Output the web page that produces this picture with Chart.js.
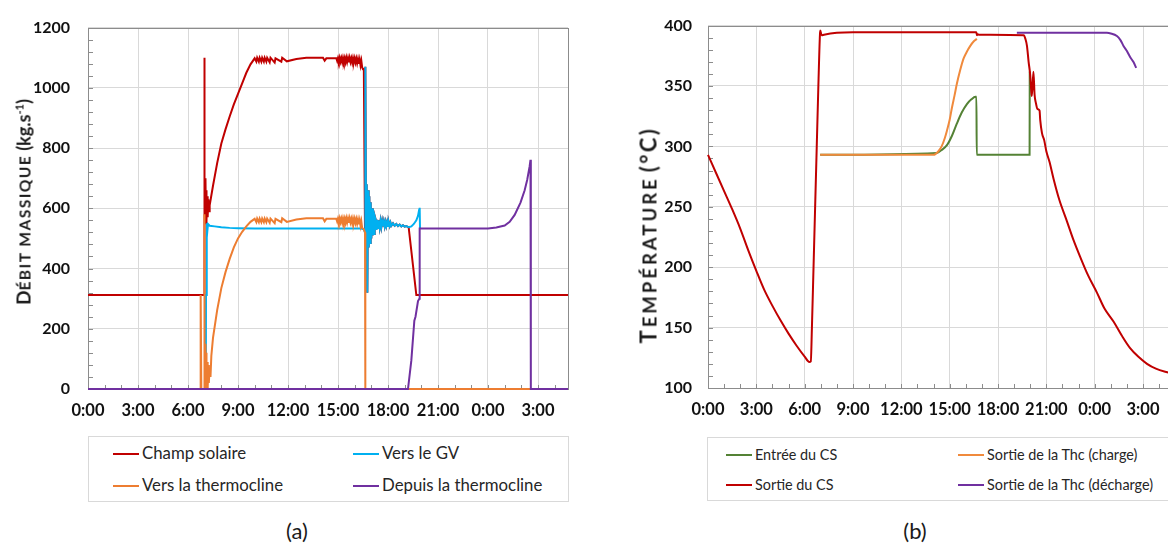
<!DOCTYPE html>
<html>
<head>
<meta charset="utf-8">
<script src="https://cdn.jsdelivr.net/npm/chart.js@4.4.1/dist/chart.umd.min.js"></script>
<style>
  html, body { margin: 0; padding: 0; background: #fff; }
  body { width: 1168px; height: 545px; overflow: hidden; position: relative; font-family: Lato, "Open Sans", sans-serif; }
  .wrap { position: absolute; top: 0; width: 600px; height: 430px; }
  .ytitle { position: absolute; font-weight: bold; color: #1a1a1a; white-space: nowrap;
            transform: translate(-50%, -50%) rotate(-90deg); }
  .ytitle sup { font-size: 11px; }
  .legend { position: absolute; border: 1px solid #d9d9d9; background: #fff; }
  .item { position: absolute; color: #262626; white-space: nowrap; line-height: 18px; }
  .item i { display: inline-block; width: 26px; height: 2px; vertical-align: middle; margin-right: 3px; position: relative; top: -1px; }
  .caption { position: absolute; font-size: 22px; color: #1a1a1a; transform: translate(-50%, -50%); }
</style>
</head>
<body>
<div class="wrap" style="left:0"><canvas id="chartA" width="600" height="430"></canvas></div>
<div class="wrap" style="left:600px"><canvas id="chartB" width="600" height="430"></canvas></div>
<div class="ytitle" style="left:23px; top:202px"><span style="font-size:19px">D</span><span style="font-size:15.5px; letter-spacing:1.5px">ÉBIT MASSIQUE</span> <span style="font-size:18px">(kg.s<sup>-1</sup>)</span></div>
<div class="ytitle" style="left:648px; top:235px"><span style="font-size:22px; letter-spacing:3px">T</span><span style="font-size:18.5px; letter-spacing:3px">EMPÉRATURE</span> <span style="font-size:22px; letter-spacing:2.5px">(°C)</span></div>
<div class="legend" id="legendA" style="left:88px; top:436px; width:479px; height:64px"></div>
<div class="legend" id="legendB" style="left:707px; top:437px; width:520px; height:62px"></div>
<div class="caption" style="left:297px; top:530px">(a)</div>
<div class="caption" style="left:915px; top:530px">(b)</div>
<script>
// ---- (a) débit massique, temps en heures depuis 0:00 ----
const namesA = ['Champ solaire', 'Vers le GV', 'Vers la thermocline', 'Depuis la thermocline'];
const colorsA = ['#C00000', '#00B0F0', '#ED7D31', '#7030A0'];

// Vers le GV
const gvT = [0, 7.07, 7.08, 7.12, 7.13, 7.17, 7.2, 7.3, 7.6, 8, 8.5, 9, 10, 16.4, 16.55, 16.62,
  16.64, 16.68, 16.72, 16.76, 16.8, 16.84, 16.88, 16.92, 16.96, 17.0, 17.04, 17.08, 17.12, 17.16, 17.2,
  17.25, 17.3, 17.35, 17.4, 17.45, 17.5, 17.55, 17.6, 17.65, 17.7, 17.75, 17.8, 17.85, 17.9, 17.95, 18.0,
  18.05, 18.1, 18.15, 18.2, 18.3, 18.4, 18.5, 18.6, 18.7, 18.8, 18.9, 19.0, 19.1, 19.24,
  19.4, 19.55, 19.7, 19.8, 19.87, 19.9, 19.92];
const gvV = [0, 0, 312, 312, 550, 530, 548, 542, 540, 537, 535, 534, 533, 533, 530, 520,
  1070, 600, 680, 320, 660, 470, 640, 485, 620, 500, 600, 510, 585, 515, 575,
  565, 528, 562, 535, 560, 537, 558, 538, 557, 540, 556, 540, 555, 541, 554, 541,
  553, 542, 552, 542, 550, 542, 548, 541, 546, 540, 544, 539, 541, 537,
  540, 548, 560, 575, 595, 602, 533];

// Champ solaire (avant 16.6 h et après 19.24 h ; entre les deux il suit le GV)
const csHeadT = [0, 6.97, 6.98, 7.0, 7.02, 7.04, 7.06, 7.08, 7.1, 7.12, 7.15, 7.18, 7.22, 7.26, 7.3,
  7.5, 7.75, 8.0, 8.25, 8.5, 8.75, 9.0, 9.25, 9.5, 9.75, 10.0,
  10.1, 10.15, 10.25, 10.3, 10.4, 10.45, 10.55, 10.6, 10.7, 10.75, 10.9, 10.95, 11.2, 11.25, 11.6, 11.65,
  11.93, 12.5, 13.1, 14.1, 14.2, 14.3, 14.9,
  14.95, 15.0, 15.05, 15.1, 15.15, 15.2, 15.25, 15.3, 15.35, 15.4, 15.45, 15.5, 15.55, 15.6, 15.65, 15.7,
  15.75, 15.8, 15.85, 15.9, 15.95, 16.0, 16.05, 16.1, 16.15, 16.2, 16.25, 16.3, 16.35, 16.4, 16.45, 16.5, 16.55];
const csHeadV = [312, 312, 1100, 560, 700, 580, 690, 550, 660, 560, 640, 570, 630, 590, 610,
  675, 750, 815, 862, 905, 945, 980, 1015, 1050, 1078, 1098,
  1087, 1100, 1087, 1100, 1087, 1100, 1087, 1100, 1087, 1100, 1085, 1100, 1084, 1098, 1087, 1100,
  1088, 1096, 1100, 1100, 1090, 1098, 1098,
  1089, 1099, 1088, 1100, 1087, 1099, 1086, 1100, 1087, 1099, 1085, 1100, 1086, 1099, 1085, 1100,
  1086, 1098, 1084, 1099, 1085, 1098, 1084, 1097, 1082, 1096, 1080, 1094, 1075, 1090, 1068, 1062, 1066];
const csTailT = [19.24, 19.7, 28.8];
const csTailV = [537, 312, 312];

// Vers la thermocline
const thcInT = [0, 6.75, 6.76, 6.8, 6.97, 6.98, 7.0, 7.02, 7.04, 7.06, 7.08, 7.1, 7.12, 7.15, 7.18, 7.22, 7.25, 7.3, 7.35,
  7.4, 7.5, 7.75, 8.0, 8.25, 8.5, 8.75, 9.0, 9.25, 9.5, 9.75, 10.0,
  10.1, 10.15, 10.25, 10.3, 10.4, 10.45, 10.55, 10.6, 10.7, 10.75, 10.9, 10.95, 11.2, 11.25, 11.6, 11.65,
  11.93, 12.5, 13.1, 14.1, 14.2, 14.3, 14.9,
  14.95, 15.0, 15.05, 15.1, 15.15, 15.2, 15.25, 15.3, 15.35, 15.4, 15.45, 15.5, 15.55, 15.6, 15.65, 15.7,
  15.75, 15.8, 15.85, 15.9, 15.95, 16.0, 16.05, 16.1, 16.15, 16.2, 16.25, 16.3, 16.35, 16.4, 16.45, 16.55, 16.62, 16.64, 28.8];
const thcInV = [0, 0, 312, 0, 0, 580, 0, 150, 0, 140, 10, 120, 0, 90, 0, 80, 20, 70, 40,
  110, 170, 262, 335, 388, 432, 470, 500, 522, 540, 555, 565,
  554, 566, 554, 566, 554, 566, 554, 566, 554, 566, 552, 566, 551, 565, 554, 567,
  555, 563, 567, 567, 557, 565, 565,
  556, 566, 555, 567, 554, 566, 553, 567, 554, 566, 552, 567, 553, 566, 552, 567,
  553, 565, 551, 566, 552, 565, 551, 564, 549, 563, 547, 561, 542, 557, 535, 530, 520, 0, 0];

// Depuis la thermocline
const thcOutT = [0, 19.2, 19.4, 19.58, 19.65, 19.8, 19.88, 19.9, 24.0, 24.5, 25.0, 25.3, 25.6, 25.95, 26.2, 26.35, 26.5, 26.55, 26.57, 28.8];
const thcOutV = [0, 0, 95, 227, 240, 292, 300, 533, 533, 536, 543, 555, 578, 619, 660, 694, 740, 761, 0, 0];

// ---- (b) températures (°C) ----
const namesB = ['Entrée du CS', 'Sortie de la Thc (charge)', 'Sortie du CS', 'Sortie de la Thc (décharge)'];
const colorsB = ['#548235', '#F08A3C', '#C00000', '#7030A0'];

const inCsT = [6.96, 14.2, 14.5, 14.83, 15.15, 15.45, 15.75, 16.07, 16.35, 16.6, 16.66, 16.68, 19.96, 19.97];
const inCsV = [293, 294.6, 297, 301, 309, 319, 328, 335, 339, 341, 341, 293, 293, 362];

const outThcChT = [6.96, 14.0, 14.3, 14.5, 14.7, 14.83, 15.0, 15.14, 15.3, 15.45, 15.65, 15.86, 16.05, 16.27, 16.5, 16.69];
const outThcChV = [293, 293, 296, 300, 307, 313, 322, 332, 342, 352, 363, 372.6, 378, 383, 387, 389];

const outCsT = [0, 0.5, 1.0, 1.5, 2.0, 2.5, 3.0, 3.5, 4.0, 4.5, 5.0, 5.5, 6.0, 6.29, 6.38, 6.45, 6.55, 6.65, 6.75, 6.85, 6.95, 6.97,
  7.05, 7.2, 8.0, 9.0, 16.65, 16.7, 16.72, 16.8, 19.6, 19.7, 19.8, 19.9, 20.0, 20.07, 20.1, 20.2, 20.27, 20.35, 20.45,
  20.58, 20.62, 20.73, 20.87, 21.0, 21.2, 21.45, 21.8, 22.28, 22.7, 23.1, 23.6, 24.14, 24.6, 25.17, 25.7, 26.2, 26.7,
  27.25, 27.8, 28.5, 28.8];
const outCsV = [293, 278, 263, 248, 232, 214, 197, 181, 168, 156, 145, 135, 126, 121.5, 122, 150, 200, 250, 300, 350, 393, 396,
  392, 392.5, 394, 394.5, 394.5, 392, 393, 392.5, 392, 389, 383, 370, 359, 345, 341.7, 361.8, 343, 336, 331,
  329.6, 322, 311, 305, 296, 287, 273, 256, 238, 222, 208.6, 193, 179, 166, 155, 143, 133, 126,
  120, 116, 113, 112];

const outThcDisT = [19.17, 24.76, 25.0, 25.38, 25.6, 25.8, 26.0, 26.2, 26.4, 26.58];
const outThcDisV = [394, 394, 393.5, 391.4, 388, 383, 379, 374, 370, 365];

const hourTicks = 3;

function pts(ts, vs) { return ts.map((t, i) => ({ x: t, y: vs[i] })); }

// le champ solaire suit le débit vers le GV entre la fin de charge et la décharge
const csMid = pts(gvT, gvV).filter(p => p.x >= 16.6 && p.x <= 19.2);
const csData = pts(csHeadT, csHeadV).concat(csMid, pts(csTailT, csTailV));

// cadre + petites graduations vers l'intérieur (comme Excel)
const frameTicks = {
  id: 'frameTicks',
  beforeDatasetsDraw(chart, args, opts) {
    const { ctx, chartArea: a, scales: { x, y } } = chart;
    ctx.save();
    ctx.strokeStyle = '#8c8c8c';
    ctx.lineWidth = 1;
    ctx.strokeRect(Math.round(a.left) + 0.5, Math.round(a.top) + 0.5, Math.round(a.right - a.left), Math.round(a.bottom - a.top));
    ctx.beginPath();
    for (let h = 0; h <= x.max; h += 1) {
      const px = Math.round(x.getPixelForValue(h)) + 0.5;
      ctx.moveTo(px, a.bottom);
      ctx.lineTo(px, a.bottom - 4);
    }
    for (let v = y.min; v <= y.max; v += opts.minor) {
      const py = Math.round(y.getPixelForValue(v)) + 0.5;
      ctx.moveTo(a.left, py);
      ctx.lineTo(a.left + 5, py);
    }
    ctx.stroke();
    ctx.restore();
  }
};

function lineSet(label, color, data, order, smooth) {
  return { label, data, borderColor: color, backgroundColor: color, borderWidth: 2,
           pointRadius: 0, tension: smooth ? 0.4 : 0, cubicInterpolationMode: smooth ? 'monotone' : 'default',
           clip: false, order };
}

function makeChart(id, datasets, yMin, yMax, yStep, yMinor, yWidth, xHeight, padRight, yPad) {
  return new Chart(document.getElementById(id), {
    type: 'line',
    data: { datasets },
    plugins: [frameTicks],
    options: {
      responsive: false,
      animation: false,
      layout: { padding: { left: 0, top: 16, right: padRight, bottom: 0 } },
      plugins: { legend: { display: false }, tooltip: { enabled: false }, frameTicks: { minor: yMinor } },
      scales: {
        x: {
          type: 'linear', min: 0, max: 28.8,
          afterFit(s) { s.height = xHeight; },
          border: { display: false },
          grid: { color: '#d9d9d9', drawTicks: false },
          ticks: {
            stepSize: hourTicks, includeBounds: false, padding: 12, maxRotation: 0,
            color: '#111', font: { family: 'Lato', size: 16.5, weight: 'bold' },
            callback: v => (v % 24) + ':00'
          }
        },
        y: {
          min: yMin, max: yMax,
          afterFit(s) { s.width = yWidth; },
          border: { display: false },
          grid: { color: '#d9d9d9', drawTicks: false },
          ticks: { stepSize: yStep, padding: yPad, color: '#111',
                   font: { family: 'Lato', size: 16, weight: 'bold' }, callback: v => String(v) }
        }
      }
    }
  });
}

makeChart('chartA', [
  lineSet(namesA[0], colorsA[0], csData, 4),
  lineSet(namesA[1], colorsA[1], pts(gvT, gvV), 3),
  lineSet(namesA[2], colorsA[2], pts(thcInT, thcInV), 2),
  lineSet(namesA[3], colorsA[3], pts(thcOutT, thcOutV), 1)
], 0, 1200, 200, 40, 88, 41, 32, 18);

makeChart('chartB', [
  lineSet(namesB[0], colorsB[0], pts(inCsT, inCsV), 4, true),
  lineSet(namesB[1], colorsB[1], pts(outThcChT, outThcChV), 3, true),
  lineSet(namesB[2], colorsB[2], pts(outCsT, outCsV), 2, true),
  lineSet(namesB[3], colorsB[3], pts(outThcDisT, outThcDisV), 1, true)
], 100, 400, 50, 10, 108, 42, 28, 16);

// légendes (2 colonnes x 2 lignes, ordre Excel)
function buildLegend(id, names, colors, colX, rowY, size) {
  const box = document.getElementById(id);
  names.forEach((n, i) => {
    const d = document.createElement('div');
    d.className = 'item';
    d.style.fontSize = size + 'px';
    d.style.left = colX[i % 2] + 'px';
    d.style.top = (rowY[Math.floor(i / 2)] - 9) + 'px';
    d.innerHTML = `<i style="background:${colors[i]}"></i>${n}`;
    box.appendChild(d);
  });
}
buildLegend('legendA', namesA, colorsA, [24, 264], [16, 48], 16.8);
buildLegend('legendB', namesB, colorsB, [18, 250], [17, 47], 14.4);
</script>
</body>
</html>
